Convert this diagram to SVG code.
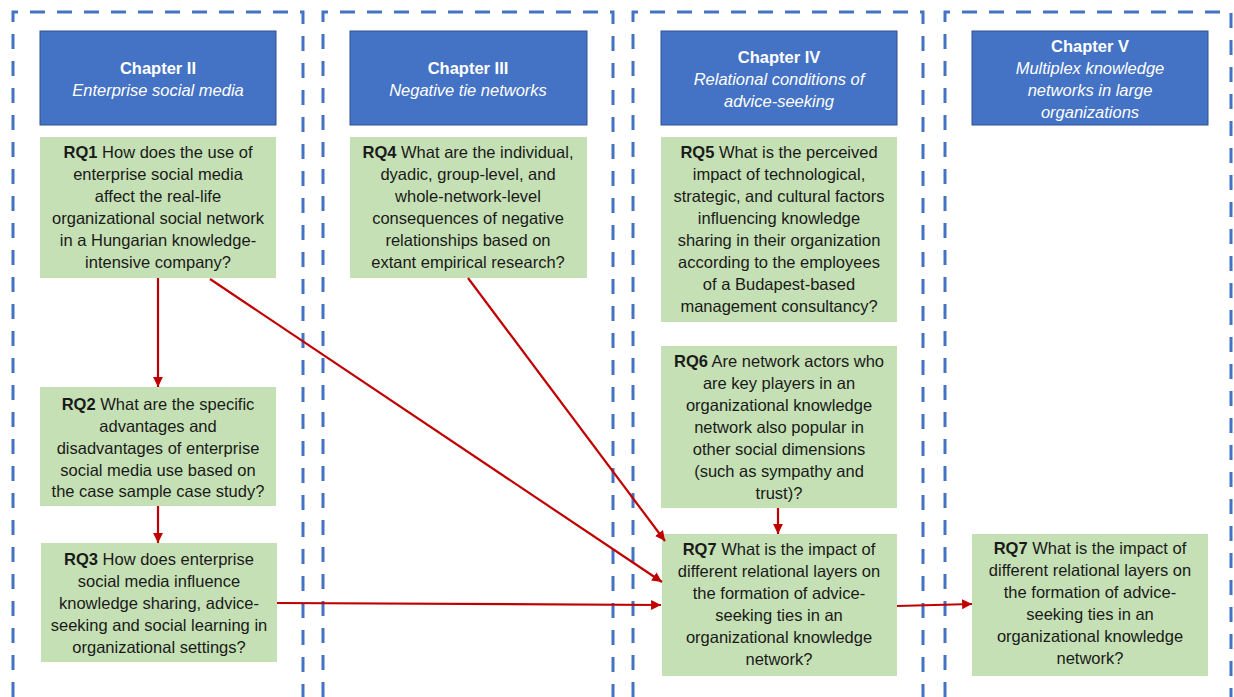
<svg xmlns="http://www.w3.org/2000/svg" width="1234" height="697" viewBox="0 0 1234 697">
<defs>
<style>
.col{fill:none;stroke:#4472C4;stroke-width:3;stroke-dasharray:15 12}
.hdr{fill:#4472C4;stroke:#2F528F;stroke-width:1}
.rq{fill:#C5E0B4}
text{font-family:"Liberation Sans",Arial,sans-serif;font-size:16.5px;text-anchor:middle}
.ht{fill:#ffffff}
.ht .b{font-weight:bold}
.ht .i{font-style:italic}
.t{fill:#1a1a1a}
.b{font-weight:bold}
.arr{fill:none;stroke:#C00000;stroke-width:2.2;marker-end:url(#ah)}
</style>
<marker id="ah" viewBox="0 0 10 10" refX="10" refY="5" markerWidth="4.5" markerHeight="4.5" orient="auto" markerUnits="strokeWidth">
<path d="M0,0 L10,5 L0,10 z" fill="#C00000"/>
</marker>
</defs>
<rect width="1234" height="697" fill="#ffffff"/>
<g id="columns">
<path class="col" d="M13,697 V12 H303 V697"/>
<path class="col" d="M323,697 V12 H613 V697"/>
<path class="col" d="M633,697 V12 H923 V697"/>
<path class="col" d="M945,697 V12 H1231 V697"/>
</g>
<g id="ch2"><rect class="hdr" x="40" y="31" width="236" height="94"/>
<text class="ht" x="158" y="74"><tspan class="b">Chapter II</tspan></text>
<text class="ht" x="158" y="96"><tspan class="i">Enterprise social media</tspan></text></g>
<g id="ch3"><rect class="hdr" x="350" y="31" width="237" height="94"/>
<text class="ht" x="468" y="74"><tspan class="b">Chapter III</tspan></text>
<text class="ht" x="468" y="96"><tspan class="i">Negative tie networks</tspan></text></g>
<g id="ch4"><rect class="hdr" x="661" y="31" width="236" height="94"/>
<text class="ht" x="779" y="63"><tspan class="b">Chapter IV</tspan></text>
<text class="ht" x="779" y="85"><tspan class="i">Relational conditions of</tspan></text>
<text class="ht" x="779" y="107"><tspan class="i">advice-seeking</tspan></text></g>
<g id="ch5"><rect class="hdr" x="972" y="31" width="236" height="94"/>
<text class="ht" x="1090" y="52"><tspan class="b">Chapter V</tspan></text>
<text class="ht" x="1090" y="74"><tspan class="i">Multiplex knowledge</tspan></text>
<text class="ht" x="1090" y="96"><tspan class="i">networks in large</tspan></text>
<text class="ht" x="1090" y="118"><tspan class="i">organizations</tspan></text></g>

<g id="rq1"><rect class="rq" x="40" y="137" width="236" height="141"/>
<text class="t" x="158" y="158"><tspan class="b">RQ1</tspan> How does the use of</text>
<text class="t" x="158" y="180">enterprise social media</text>
<text class="t" x="158" y="202">affect the real-life</text>
<text class="t" x="158" y="224">organizational social network</text>
<text class="t" x="158" y="246">in a Hungarian knowledge-</text>
<text class="t" x="158" y="268">intensive company?</text></g>

<g id="rq2"><rect class="rq" x="40" y="387" width="236" height="119"/>
<text class="t" x="158" y="410"><tspan class="b">RQ2</tspan> What are the specific</text>
<text class="t" x="158" y="432">advantages and</text>
<text class="t" x="158" y="454">disadvantages of enterprise</text>
<text class="t" x="158" y="476">social media use based on</text>
<text class="t" x="158" y="497">the case sample case study?</text></g>

<g id="rq3"><rect class="rq" x="41" y="543" width="236" height="119"/>
<text class="t" x="159" y="565"><tspan class="b">RQ3</tspan> How does enterprise</text>
<text class="t" x="159" y="587">social media influence</text>
<text class="t" x="159" y="609">knowledge sharing, advice-</text>
<text class="t" x="159" y="631">seeking and social learning in</text>
<text class="t" x="159" y="653">organizational settings?</text></g>

<g id="rq4"><rect class="rq" x="350" y="137" width="237" height="141"/>
<text class="t" x="468" y="158"><tspan class="b">RQ4</tspan> What are the individual,</text>
<text class="t" x="468" y="180">dyadic, group-level, and</text>
<text class="t" x="468" y="202">whole-network-level</text>
<text class="t" x="468" y="224">consequences of negative</text>
<text class="t" x="468" y="246">relationships based on</text>
<text class="t" x="468" y="268">extant empirical research?</text></g>

<g id="rq5"><rect class="rq" x="661" y="137" width="236" height="185"/>
<text class="t" x="779" y="158"><tspan class="b">RQ5</tspan> What is the perceived</text>
<text class="t" x="779" y="180">impact of technological,</text>
<text class="t" x="779" y="202">strategic, and cultural factors</text>
<text class="t" x="779" y="224">influencing knowledge</text>
<text class="t" x="779" y="246">sharing in their organization</text>
<text class="t" x="779" y="268">according to the employees</text>
<text class="t" x="779" y="290">of a Budapest-based</text>
<text class="t" x="779" y="312">management consultancy?</text></g>

<g id="rq6"><rect class="rq" x="661" y="346" width="236" height="162"/>
<text class="t" x="779" y="367"><tspan class="b">RQ6</tspan> Are network actors who</text>
<text class="t" x="779" y="389">are key players in an</text>
<text class="t" x="779" y="411">organizational knowledge</text>
<text class="t" x="779" y="433">network also popular in</text>
<text class="t" x="779" y="455">other social dimensions</text>
<text class="t" x="779" y="477">(such as sympathy and</text>
<text class="t" x="779" y="499">trust)?</text></g>

<g id="rq7a"><rect class="rq" x="662" y="534" width="235" height="142"/>
<text class="t" x="779" y="555"><tspan class="b">RQ7</tspan> What is the impact of</text>
<text class="t" x="779" y="577">different relational layers on</text>
<text class="t" x="779" y="599">the formation of advice-</text>
<text class="t" x="779" y="621">seeking ties in an</text>
<text class="t" x="779" y="643">organizational knowledge</text>
<text class="t" x="779" y="665">network?</text></g>

<g id="rq7b"><rect class="rq" x="972" y="534" width="236" height="142"/>
<text class="t" x="1090" y="554"><tspan class="b">RQ7</tspan> What is the impact of</text>
<text class="t" x="1090" y="576">different relational layers on</text>
<text class="t" x="1090" y="598">the formation of advice-</text>
<text class="t" x="1090" y="620">seeking ties in an</text>
<text class="t" x="1090" y="642">organizational knowledge</text>
<text class="t" x="1090" y="664">network?</text></g>

<g id="connectors">
<path class="arr" d="M158,278 V387"/>
<path class="arr" d="M158,506 V543"/>
<path class="arr" d="M210,279 L662,582"/>
<path class="arr" d="M468,278 L665,541"/>
<path class="arr" d="M277,603 L661,605"/>
<path class="arr" d="M778,508 V534"/>
<path class="arr" d="M897,606 L972,604"/>
</g>
</svg>
